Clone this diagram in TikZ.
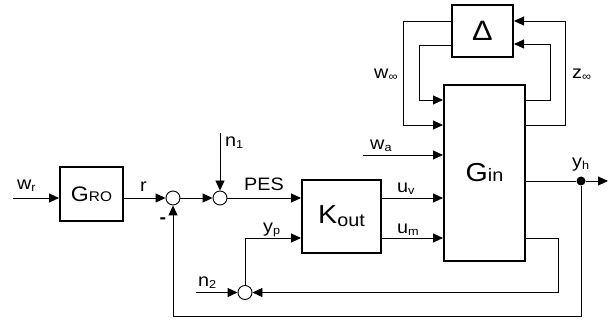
\documentclass[tikz,border=0pt]{standalone}
\usepackage{fontspec}
\setmainfont{Liberation Sans}[FakeStretch=1.1]
\usetikzlibrary{arrows.meta,calc}
\newcommand\sbs[1]{{\fontsize{11.5}{12}\selectfont\raisebox{-1.5pt}{#1}}}
\begin{document}
\begin{tikzpicture}[x=1pt,y=-1pt,
  blk/.style={draw,line width=2pt,inner sep=0pt},
  sumc/.style={draw,circle,line width=0.9pt,minimum size=14pt,inner sep=0pt},
  conn/.style={line width=0.9pt,-{Triangle[length=10pt,width=9pt]}},
  wire/.style={line width=0.9pt},
  lab/.style={font=\fontsize{18}{20}\selectfont,inner sep=0pt,anchor=base west}]
\useasboundingbox (0,0) rectangle (616,320);
% blocks
\node[blk,minimum width=63pt,minimum height=54pt] (gro) at (91.5,194)
  {\fontsize{21}{23}\selectfont G\fontsize{14}{15}\selectfont RO};
\node[blk,minimum width=79pt,minimum height=73pt] (kout) at (341.5,216.5)
  {\fontsize{26}{28}\selectfont K\fontsize{18}{20}\selectfont\raisebox{-3pt}{out}};
\node[blk,minimum width=81pt,minimum height=176pt] (gin) at (484.5,173)
  {\fontsize{26}{28}\selectfont G\fontsize{18}{20}\selectfont in};
\node[blk,minimum width=61pt,minimum height=52pt] (delta) at (482.5,31)
  {\fontsize{28}{30}\selectfont Δ};
% sums and dot
\node[sumc] (s1) at (173,198) {};
\node[sumc] (s2) at (220,198) {};
\node[sumc] (s3) at (245,292.5) {};
\node[circle,fill,minimum size=9pt,inner sep=0pt] (dot) at (581,181) {};
% free ends
\coordinate (wr) at (13,198);
\coordinate (n1) at (220,133);
\coordinate (wa) at (363,155);
\coordinate (yh) at (608,181);
\coordinate (n2) at (196,292.5);
% connectors
\draw[conn] (wr) -- (wr -| gro.west);
\draw[conn] (gro.east |- s1) -- (s1.west);
\draw[conn] (s1.east) -- (s2.west);
\draw[conn] (n1) -- (s2.north);
\draw[conn] (s2.east) -- (s2 -| kout.west);
\draw[conn] (s3.north) |- ($(kout.west)+(0,21.5)$);
\draw[conn] (kout.east |- s2) -- (gin.west |- s2);
\draw[conn] ($(kout.east)+(0,21.5)$) -- ($(kout.east -| gin.west)+(0,21.5)$);
\draw[conn] (wa) -- (wa -| gin.west);
\draw[wire] (gin.east |- dot) -- (dot);
\draw[conn] (dot) -- (yh);
\draw[conn] (dot) -- ++(0,135.5) -| (s1.south);
\draw[conn] ($(gin.east)+(0,65)$) -- ++(32,0) |- (s3.east);
\draw[conn] (n2) -- (s3.west);
% Delta loops
\draw[conn] ($(gin.east)+(0,-73)$) -- ++(24,0) |- ($(delta.east)+(0,13)$);
\draw[conn] ($(gin.east)+(0,-48)$) -- ++(39,0) |- ($(delta.east)+(0,-10)$);
\draw[conn] ($(delta.west)+(0,-10)$) -- ++(-48,0) |- ($(gin.west)+(0,-48)$);
\draw[conn] ($(delta.west)+(0,14)$) -- ++(-32,0) |- ($(gin.west)+(0,-73)$);
% labels
\node[lab] (lwr) at (17,190) {w\sbs{r}};
\node[lab] (lr) at (140,192) {r};
\node[lab] (ln1) at (225,147) {n\sbs{1}};
\node[lab] (lpes) at (244,191) {PES};
\node[lab] (lyp) at (263,233) {y\sbs{p}};
\node[lab] (lwa) at (370,150) {w\sbs{a}};
\node[lab] (luv) at (397,193) {u\sbs{v}};
\node[lab] (lum) at (397,234) {u\sbs{m}};
\node[lab] (lyh) at (572,168) {y\sbs{h}};
\node[lab] (lwinf) at (374,79) {w\sbs{∞}};
\node[lab] (lzinf) at (572,79) {z\sbs{∞}};
\node[lab] (ln2) at (198,287) {n\sbs{2}};
\node[font=\fontsize{18}{20}\selectfont\bfseries,inner sep=0pt] (lminus) at (163,221) {-};
\end{tikzpicture}
\end{document}
